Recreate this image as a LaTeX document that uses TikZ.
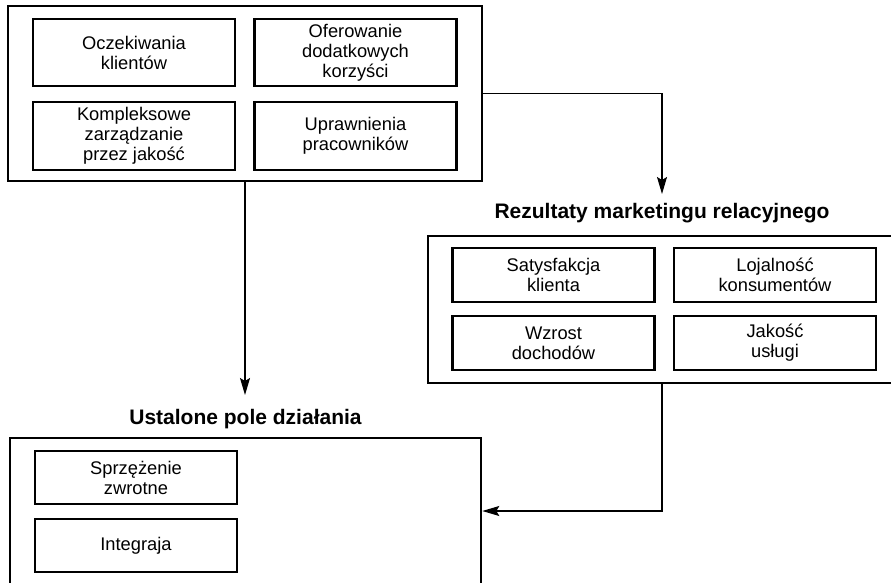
\documentclass[tikz,border=0pt]{standalone}
\usepackage{fontspec}
\setmainfont{Liberation Sans}
\usetikzlibrary{arrows.meta}
\begin{document}
\begin{tikzpicture}[x=1pt,y=-1pt,
  group/.style={draw=black,line width=2.6pt,rectangle,inner sep=0pt},
  item/.style={draw=black,line width=2.3pt,rectangle,inner sep=0pt,
    minimum width=202pt,align=center,
    font=\fontsize{18.3}{20}\selectfont},
  heading/.style={anchor=base,inner sep=0pt,font=\fontsize{21}{24}\selectfont\bfseries},
  flow/.style={draw=black,line width=1.2pt,
    -{Stealth[length=17pt,width=10pt,inset=3pt]}}]
\useasboundingbox (0,0) rectangle (891,583);
\clip (0,0) rectangle (891,583);
\fill[white] (0,0) rectangle (891,583);

% inputs
\node[group,minimum width=474pt,minimum height=175pt] (top) at (245,93.5) {};
\node[item,minimum height=67pt] (a) at (134,52.5) {Oczekiwania\\klientów};
\node[item,minimum height=67pt] (b) at (355.5,52.5) {Oferowanie\\dodatkowych\\korzyści};
\node[item,minimum height=68pt] (c) at (134,136) {Kompleksowe\\zarządzanie\\przez jakość};
\node[item,minimum height=68pt] (d) at (355.5,136) {Uprawnienia\\pracowników};

% results
\node[heading] (rtitle) at (662,218) {Rezultaty marketingu relacyjnego};
\coordinate (rin) at (662,194);
\node[group,minimum width=468pt,minimum height=147pt] (res) at (662,309.5) {};
\node[item,minimum height=54pt] (e) at (553.5,275) {Satysfakcja\\klienta};
\node[item,minimum height=54pt] (f) at (775,275) {Lojalność\\konsumentów};
\node[item,minimum height=54pt] (g) at (553.5,343) {Wzrost\\dochodów};
\node[item,minimum height=54pt] (h) at (775,343) {Jakość\\usługi};

% field of action
\node[heading] (btitle) at (245.5,424) {Ustalone pole działania};
\coordinate (bin) at (245,395);
\node[group,minimum width=471pt,minimum height=146pt] (field) at (245.5,511) {};
\node[item,minimum height=53pt] (i) at (136,477.5) {Sprzężenie\\zwrotne};
\node[item,minimum height=53pt] (j) at (136,545.5) {Integraja};

% connectors
\draw[flow] (top.east) -| (rin);
\draw[flow] (top.south) -- (bin);
\draw[flow] (res.south) |- (field.east);
\end{tikzpicture}
\end{document}
